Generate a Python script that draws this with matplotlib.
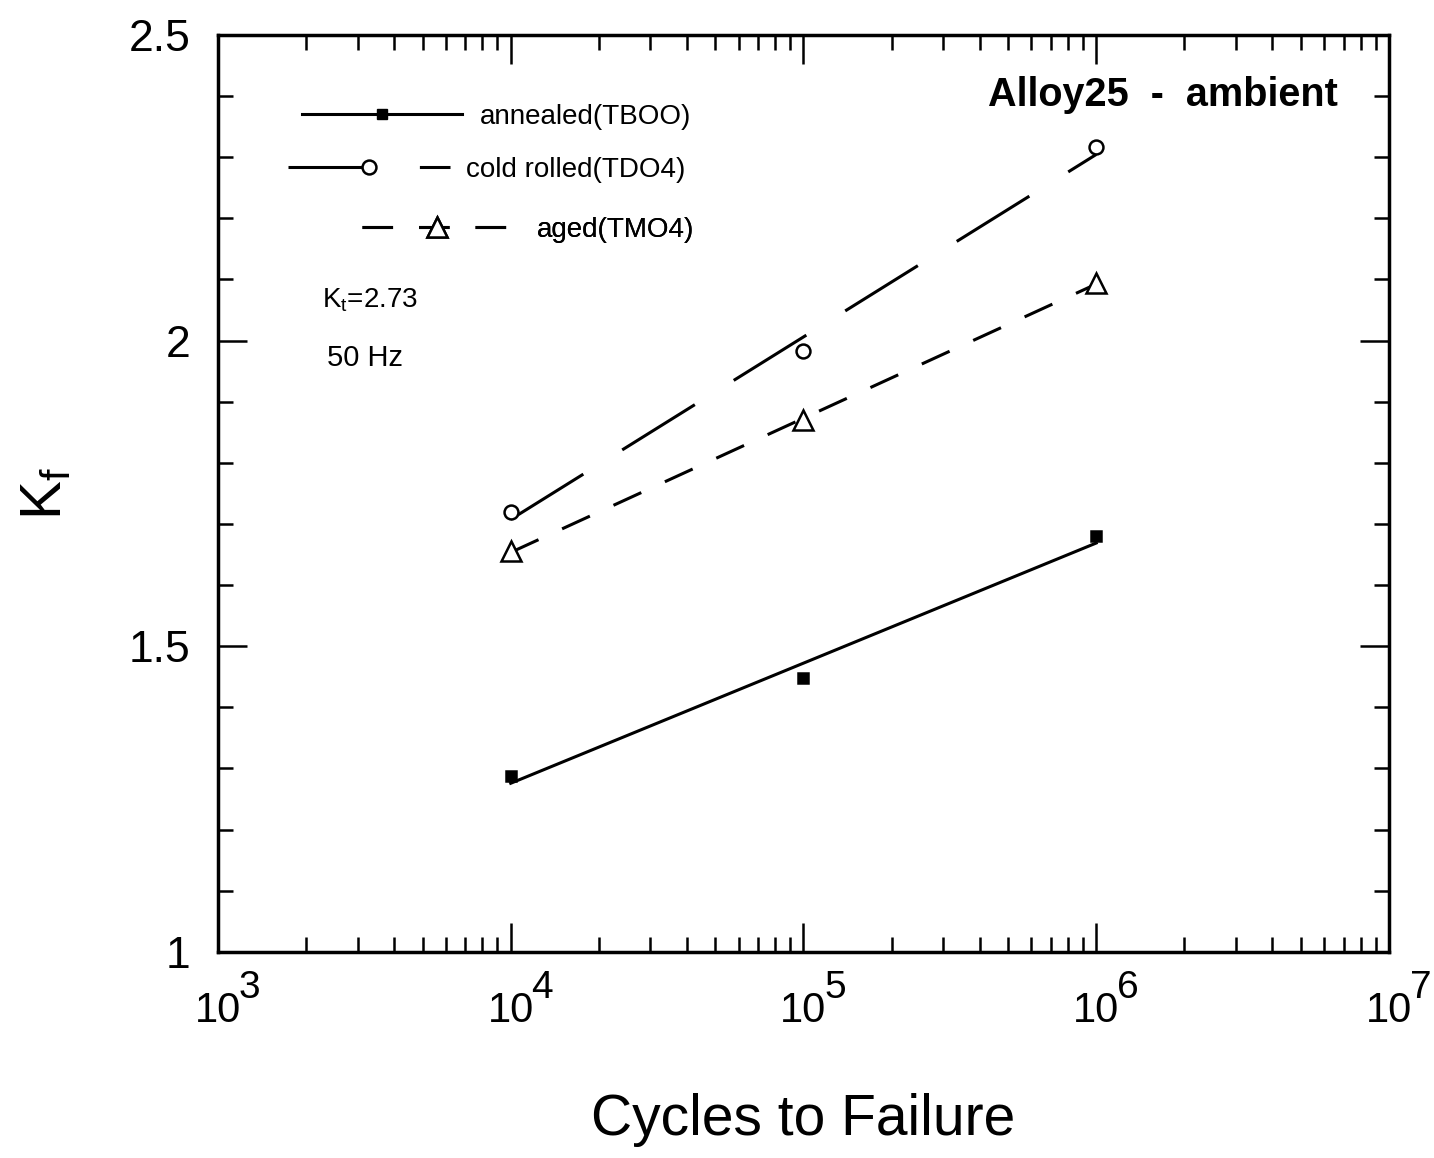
import numpy as np
import matplotlib.pyplot as plt
from matplotlib.lines import Line2D
from matplotlib.ticker import MultipleLocator, LogLocator, NullFormatter, FuncFormatter

plt.rcParams['font.family'] = ['Liberation Sans', 'DejaVu Sans']
plt.rcParams['mathtext.fontset'] = 'custom'
plt.rcParams['mathtext.rm'] = 'Liberation Sans'
plt.rcParams['mathtext.it'] = 'Liberation Sans'

# data
cycles = [1e4, 1e5, 1e6]
kf_annealed = [1.288, 1.448, 1.681]
kf_cold_rolled = [1.719, 1.983, 2.316]
kf_aged = [1.655, 1.870, 2.094]
labels = ['annealed(TBOO)', 'cold rolled(TDO4)', 'aged(TMO4)']
decades = [3, 4, 5, 6, 7]

fig = plt.figure(figsize=(14.34, 11.58), dpi=100)
ax = fig.add_axes([0.152, 0.178, 0.8166, 0.7918])

dash_cold = (0, (28, 15))
dash_aged = (0, (10, 8.5))
styles = [
    (kf_annealed, '-', 's', 'k', 7),
    (kf_cold_rolled, dash_cold, 'o', 'white', 10),
    (kf_aged, dash_aged, '^', 'white', 15),
]

logx = np.log10(cycles)
xs = np.array([cycles[0], cycles[-1]])
for y, ls, mk, mfc, ms in styles:
    # least squares fit in log(N)
    p = np.polyfit(logx, y, 1)
    ax.plot(xs, np.polyval(p, np.log10(xs)), color='k', lw=2.2, ls=ls, zorder=2)
    ax.plot(cycles, y, ls='none', marker=mk, mfc=mfc, mec='k', ms=ms, mew=1.8, zorder=3)

ax.set_xscale('log')
ax.set_xlim(10.0 ** decades[0], 10.0 ** decades[-1])
ax.set_ylim(1, 2.5)

ax.xaxis.set_major_locator(LogLocator(base=10, numticks=10))
ax.xaxis.set_minor_locator(LogLocator(base=10, subs=np.arange(2, 10), numticks=20))
ax.xaxis.set_minor_formatter(NullFormatter())
ax.xaxis.set_major_formatter(FuncFormatter(lambda v, pos: '10'))
ax.yaxis.set_major_locator(MultipleLocator(0.5))
ax.yaxis.set_minor_locator(MultipleLocator(0.1))
ax.yaxis.set_major_formatter(FuncFormatter(lambda v, pos: '%g' % v))

ax.tick_params(which='both', direction='in', top=True, right=True, width=1.8)
ax.tick_params(which='major', length=21)
ax.tick_params(which='minor', length=11)
ax.tick_params(axis='y', labelsize=32, pad=20)
ax.tick_params(axis='x', labelsize=30, pad=28)
for s in ax.spines.values():
    s.set_linewidth(2.5)

# full size exponents next to the "10" tick labels
for e in decades:
    ax.annotate(str(e), xy=(10.0 ** e, 0), xycoords=('data', 'axes fraction'),
                xytext=(15, -13), textcoords='offset points', ha='left', va='top',
                fontsize=28, annotation_clip=False)

ax.set_xlabel('Cycles to Failure', fontsize=41, labelpad=45)
ax.set_ylabel(r'$\mathregular{K_f}$', fontsize=42, labelpad=40)

ax.text(0.956, 0.935, 'Alloy25  -  ambient', transform=ax.transAxes,
        ha='right', va='center', fontsize=28.5, fontweight='bold')
ax.text(0.0888, 0.711, r'$\mathregular{K_t}$=2.73', transform=ax.transAxes,
        ha='left', va='center', fontsize=20)
ax.text(0.0931, 0.648, '50 Hz', transform=ax.transAxes,
        ha='left', va='center', fontsize=21)

# three one-line legends, staggered like the original
handles = [
    Line2D([], [], color='k', lw=2.2, ls='-', marker='s', ms=7, mfc='k', mec='k'),
    Line2D([], [], color='k', lw=2.2, ls=dash_cold, marker='o', ms=10, mfc='white', mec='k', mew=1.8),
    Line2D([], [], color='k', lw=2.2, ls=dash_aged, marker='^', ms=15, mfc='white', mec='k', mew=1.8),
]
leg_pos = [(0.0717, 0.9106), (0.0598, 0.8528), (0.123, 0.7874)]
leg_len = [5.76, 5.83, 5.4]
leg_pad = [0.65, 0.57, 0.9]
for h, lab, pos, hl, hp in zip(handles, labels, leg_pos, leg_len, leg_pad):
    leg = ax.legend([h], [lab], loc='center left', bbox_to_anchor=pos, frameon=False,
                    fontsize=20, numpoints=1, handlelength=hl, handletextpad=hp,
                    borderpad=0, borderaxespad=0)
    ax.add_artist(leg)

plt.savefig('out.png', dpi=100)
